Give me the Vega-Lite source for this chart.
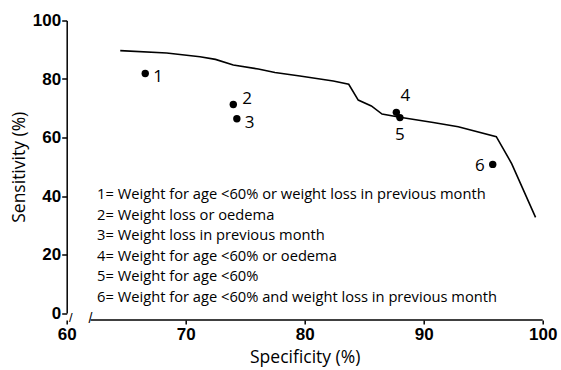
{
  "$schema": "https://vega.github.io/schema/vega-lite/v6.json",
  "width": 476,
  "height": 292.5,
  "autosize": {"type": "none"},
  "padding": {"left": 66.7, "top": 20.5, "right": 18.3, "bottom": 56.5},
  "background": "white",
  "config": {"view": {"stroke": null}},
  "datasets": {
    "curve": [
      {"spec": 64.5, "sens": 89.7},
      {"spec": 68.4, "sens": 88.9},
      {"spec": 71.2, "sens": 87.6},
      {"spec": 72.5, "sens": 86.7},
      {"spec": 74.0, "sens": 84.8},
      {"spec": 76.1, "sens": 83.4},
      {"spec": 77.5, "sens": 82.2},
      {"spec": 79.6, "sens": 81.0},
      {"spec": 82.4, "sens": 79.3},
      {"spec": 83.7, "sens": 78.2},
      {"spec": 84.5, "sens": 72.8},
      {"spec": 85.6, "sens": 70.8},
      {"spec": 86.5, "sens": 68.0},
      {"spec": 88.0, "sens": 66.9},
      {"spec": 90.8, "sens": 65.1},
      {"spec": 92.9, "sens": 63.7},
      {"spec": 96.1, "sens": 60.3},
      {"spec": 97.4, "sens": 51.0},
      {"spec": 99.4, "sens": 32.7}
    ],
    "points": [
      {"id": "1", "spec": 66.6, "sens": 81.9},
      {"id": "2", "spec": 74.0, "sens": 71.3},
      {"id": "3", "spec": 74.3, "sens": 66.4},
      {"id": "4", "spec": 87.7, "sens": 68.6},
      {"id": "5", "spec": 88.0, "sens": 66.8},
      {"id": "6", "spec": 95.8, "sens": 50.8}
    ],
    "axisline": [{"from": 62.0, "to": 100}]
  },
  "layer": [
    {
      "data": {"name": "curve"},
      "mark": {"type": "line", "color": "black", "strokeWidth": 1.6},
      "encoding": {
        "x": {
          "field": "spec", "type": "quantitative",
          "scale": {"domain": [60, 100], "nice": false, "zero": false},
          "axis": {
            "title": "Specificity (%)",
            "values": [60, 70, 80, 90, 100],
            "domain": false,
            "offset": 7,
            "tickColor": "black", "tickSize": 4, "tickWidth": 1.5,
            "labelFont": "Liberation Sans", "labelFontWeight": "bold", "labelFontSize": 17,
            "labelColor": "black", "labelPadding": 2, "labelFlush": false,
            "grid": false,
            "titleFont": "Open Sans", "titleFontSize": 17.5, "titleFontWeight": "normal",
            "titleColor": "black", "titlePadding": 6
          }
        },
        "y": {
          "field": "sens", "type": "quantitative",
          "scale": {"domain": [0, 100], "nice": false},
          "axis": {
            "title": "Sensitivity (%)",
            "values": [0, 10, 20, 30, 40, 50, 60, 70, 80, 90, 100],
            "labelExpr": "datum.value % 20 === 0 ? datum.label : ''",
            "domainColor": "black", "domainWidth": 1.5,
            "tickColor": "black", "tickSize": 5, "tickWidth": 1.5,
            "labelFont": "Liberation Sans", "labelFontWeight": "bold", "labelFontSize": 17,
            "labelColor": "black", "labelPadding": 1,
            "grid": false,
            "titleFont": "Open Sans", "titleFontSize": 17.5, "titleFontWeight": "normal",
            "titleColor": "black", "titlePadding": 4
          }
        }
      }
    },
    {
      "data": {"name": "axisline"},
      "mark": {"type": "rule", "color": "black", "strokeWidth": 1.5, "yOffset": 7},
      "encoding": {
        "x": {"field": "from", "type": "quantitative"},
        "x2": {"field": "to"},
        "y": {"datum": 0}
      }
    },
    {
      "data": {"name": "axisline"},
      "mark": {"type": "text", "text": "/", "font": "Liberation Sans", "fontSize": 14, "yOffset": 6, "xOffset": 0, "color": "black"},
      "encoding": {
        "x": {"field": "from", "type": "quantitative"},
        "y": {"datum": 0}
      }
    },
    {
      "data": {"name": "axisline"},
      "mark": {"type": "text", "text": "/", "font": "Liberation Sans", "fontSize": 13, "yOffset": 5, "xOffset": 4, "color": "black"},
      "encoding": {
        "x": {"datum": 60},
        "y": {"datum": 0}
      }
    },
    {
      "data": {"name": "points"},
      "mark": {"type": "circle", "color": "black", "opacity": 1, "size": 55},
      "encoding": {
        "x": {"field": "spec", "type": "quantitative"},
        "y": {"field": "sens", "type": "quantitative"}
      }
    },
    {
      "data": {"name": "points"},
      "transform": [{"filter": "datum.id === '1' || datum.id === '3'"}],
      "mark": {"type": "text", "font": "Open Sans", "fontSize": 17, "align": "left", "baseline": "middle", "dx": 8, "dy": 4, "color": "black"},
      "encoding": {
        "x": {"field": "spec", "type": "quantitative"},
        "y": {"field": "sens", "type": "quantitative"},
        "text": {"field": "id"}
      }
    },
    {
      "data": {"name": "points"},
      "transform": [{"filter": "datum.id === '2'"}],
      "mark": {"type": "text", "font": "Open Sans", "fontSize": 17, "align": "left", "baseline": "middle", "dx": 9, "dy": -5, "color": "black"},
      "encoding": {
        "x": {"field": "spec", "type": "quantitative"},
        "y": {"field": "sens", "type": "quantitative"},
        "text": {"field": "id"}
      }
    },
    {
      "data": {"name": "points"},
      "transform": [{"filter": "datum.id === '4'"}],
      "mark": {"type": "text", "font": "Open Sans", "fontSize": 17, "align": "center", "baseline": "middle", "dx": 9, "dy": -16, "color": "black"},
      "encoding": {
        "x": {"field": "spec", "type": "quantitative"},
        "y": {"field": "sens", "type": "quantitative"},
        "text": {"field": "id"}
      }
    },
    {
      "data": {"name": "points"},
      "transform": [{"filter": "datum.id === '5'"}],
      "mark": {"type": "text", "font": "Open Sans", "fontSize": 17, "align": "center", "baseline": "middle", "dx": 0, "dy": 17, "color": "black"},
      "encoding": {
        "x": {"field": "spec", "type": "quantitative"},
        "y": {"field": "sens", "type": "quantitative"},
        "text": {"field": "id"}
      }
    },
    {
      "data": {"name": "points"},
      "transform": [{"filter": "datum.id === '6'"}],
      "mark": {"type": "text", "font": "Open Sans", "fontSize": 17, "align": "right", "baseline": "middle", "dx": -8, "dy": 2, "color": "black"},
      "encoding": {
        "x": {"field": "spec", "type": "quantitative"},
        "y": {"field": "sens", "type": "quantitative"},
        "text": {"field": "id"}
      }
    },
    {
      "data": {"values": [{}]},
      "mark": {"type": "text", "font": "Open Sans", "fontSize": 14.7, "align": "left", "baseline": "alphabetic", "lineHeight": 20.6, "color": "black"},
      "encoding": {
        "x": {"datum": 62.55},
        "y": {"datum": 39.0},
        "text": {"value": [
          "1= Weight for age <60% or weight loss in previous month",
          "2= Weight loss or  oedema",
          "3= Weight loss in previous month",
          "4= Weight for age <60% or  oedema",
          "5= Weight for age <60%",
          "6= Weight for age <60% and weight loss in previous month"
        ]}
      }
    }
  ]
}
